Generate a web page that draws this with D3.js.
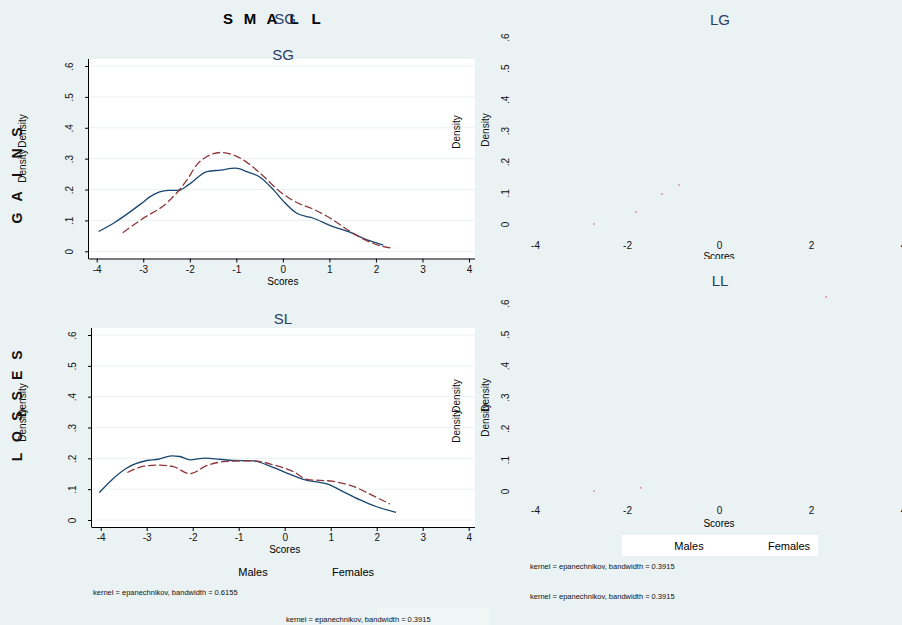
<!DOCTYPE html>
<html>
<head>
<meta charset="utf-8">
<script src="https://cdn.jsdelivr.net/npm/d3@7"></script>
<style>
  body { margin: 0; background: #eaf2f3; }
  svg { display: block; font-family: "Liberation Sans", Arial, sans-serif; }
  .tick text { font-size: 10px; fill: #111; }
  .note { font-size: 7.5px; fill: #111; }
</style>
</head>
<body>
<svg id="chart" width="902" height="625"></svg>
<script>
const xTicks = [-4, -3, -2, -1, 0, 1, 2, 3, 4];
const xTicksWide = [-4, -2, 0, 2, 4];
const yTicks = [0, 0.1, 0.2, 0.3, 0.4, 0.5, 0.6];
const yTickLabels = ["0", ".1", ".2", ".3", ".4", ".5", ".6"];
const titleLetters = ["S", "M", "A", "L", "L"];
const rowGains = ["G", "A", "I", "N", "S"];
const rowLosses = ["L", "O", "S", "S", "E", "S"];
const legendLabels = ["Males", "Females"];

// SG panel, males (solid) and females (dashed)
const sgMales = [[-3.96, 0.064], [-3.64, 0.091], [-3.03, 0.156], [-2.85, 0.177], [-2.46, 0.197],
  [-2.25, 0.197], [-2.03, 0.215], [-1.63, 0.258], [-1.34, 0.263], [-1.02, 0.269], [-0.77, 0.258],
  [-0.49, 0.240], [-0.2, 0.199], [0.02, 0.161], [0.30, 0.123], [0.66, 0.107], [1.02, 0.083],
  [1.45, 0.061], [1.73, 0.042], [2.16, 0.020]];
const sgFemales = [[-3.44, 0.060], [-3.06, 0.101], [-2.46, 0.161], [-2.06, 0.231], [-1.85, 0.280],
  [-1.63, 0.307], [-1.34, 0.320], [-1.06, 0.312], [-0.70, 0.280], [-0.41, 0.242], [-0.06, 0.193],
  [0.30, 0.158], [0.66, 0.136], [1.02, 0.107], [1.45, 0.064], [1.81, 0.034], [2.16, 0.015],
  [2.38, 0.010]];

// SL panel
const slMales = [[-4.03, 0.089], [-3.76, 0.130], [-3.44, 0.168], [-3.0, 0.193], [-2.75, 0.197],
  [-2.46, 0.208], [-2.28, 0.206], [-2.06, 0.195], [-1.73, 0.201], [-1.41, 0.197], [-1.12, 0.193],
  [-0.68, 0.192], [-0.39, 0.179], [-0.03, 0.157], [0.40, 0.132], [0.98, 0.114], [1.27, 0.092],
  [1.64, 0.065], [2.0, 0.043], [2.42, 0.025]];
const slFemales = [[-3.42, 0.154], [-3.0, 0.176], [-2.72, 0.178], [-2.42, 0.173], [-2.06, 0.150],
  [-1.70, 0.176], [-1.26, 0.190], [-0.68, 0.192], [-0.25, 0.179], [0.19, 0.157], [0.48, 0.132],
  [1.06, 0.125], [1.49, 0.109], [1.93, 0.078], [2.29, 0.052]];

// stray specks left in the empty right panels
const lgDots = [[-2.72, 0.0], [-1.80, 0.039], [-1.24, 0.096], [-0.87, 0.125]];
const llDots = [[-2.72, 0.0], [-1.70, 0.010], [2.33, 0.62]];

const bg = "#eaf2f3";
const navy = "#1a476f";
const maroon = "#90353b";
const titleColor = "#2a3c66";

const svg = d3.select("#chart");

translate = function(a, b) {
  return "translate(" + a + ", " + b + ")";
};

function vText(x, y, txt, size, weight) {
  svg.append("text")
    .attr("transform", translate(x, y) + " rotate(-90)")
    .attr("text-anchor", "middle")
    .attr("dy", "0.35em")
    .style("font-size", size + "px")
    .style("font-weight", weight || "normal")
    .style("fill", "#111")
    .text(txt);
}

function panel(cfg) {
  let x = d3.scaleLinear().domain([-4, 4]).range(cfg.xr);
  let y = d3.scaleLinear().domain([0, 0.6]).range(cfg.yr);
  let g = svg.append("g");

  if (cfg.box) {
    g.append("rect")
      .attr("x", cfg.box[0]).attr("y", cfg.box[1])
      .attr("width", cfg.box[2] - cfg.box[0]).attr("height", cfg.box[3] - cfg.box[1])
      .attr("fill", "#fff");
    g.selectAll("line.grid")
      .data(yTicks)
      .enter()
      .append("line")
      .attr("class", "grid")
      .attr("x1", cfg.box[0]).attr("x2", cfg.box[2])
      .attr("y1", d => y(d)).attr("y2", d => y(d))
      .attr("stroke", bg).attr("stroke-width", 1);
  }

  // x axis
  let xAxis = d3.axisBottom(x).tickValues(cfg.xt).tickFormat(d3.format("d"))
    .tickSize(4).tickPadding(3);
  let xg = g.append("g").attr("transform", translate(0, cfg.xAxisY)).call(xAxis);
  if (cfg.box) {
    xg.select(".domain").attr("d", "M" + cfg.box[0] + ",0.5H" + cfg.box[2]).attr("stroke", "#000");
  } else {
    xg.select(".domain").remove();
    xg.selectAll(".tick line").remove();
  }
  xg.selectAll(".tick text").text(d => d < 0 ? "-" + Math.abs(d) : d);

  // y axis
  let yAxis = d3.axisLeft(y).tickValues(yTicks).tickFormat((d, i) => yTickLabels[i]).tickSize(4);
  let yg = g.append("g").attr("transform", translate(cfg.yAxisX, 0)).call(yAxis);
  if (cfg.box) {
    yg.select(".domain").attr("d", "M-0.5," + cfg.box[1] + "V" + (cfg.xAxisY + 0.5)).attr("stroke", "#000");
  } else {
    yg.select(".domain").remove();
    yg.selectAll(".tick line").remove();
  }
  yg.selectAll(".tick text")
    .attr("x", null).attr("dy", null)
    .attr("text-anchor", "middle")
    .attr("transform", "translate(-16, 0) rotate(-90)");

  // panel title and axis title
  g.append("text")
    .attr("x", cfg.titleX).attr("y", cfg.titleY)
    .attr("dy", "0.35em")
    .attr("text-anchor", "middle")
    .style("font-size", "15px")
    .style("fill", titleColor)
    .text(cfg.title);

  g.append("text")
    .attr("x", x(0)).attr("y", cfg.scoresY)
    .attr("dy", "0.35em")
    .attr("text-anchor", "middle")
    .style("font-size", "10px")
    .text("Scores");

  let line = d3.line().x(d => x(d[0])).y(d => y(d[1])).curve(d3.curveMonotoneX);

  if (cfg.males) {
    g.append("path").datum(cfg.males)
      .attr("d", line)
      .attr("fill", "none")
      .attr("stroke", navy)
      .attr("stroke-width", 1.3);
  }
  if (cfg.females) {
    g.append("path").datum(cfg.females)
      .attr("d", line)
      .attr("fill", "none")
      .attr("stroke", maroon)
      .attr("stroke-width", 1.3)
      .attr("stroke-dasharray", "8,3");
  }
  if (cfg.dots) {
    g.selectAll("rect.dot")
      .data(cfg.dots)
      .enter()
      .append("rect")
      .attr("class", "dot")
      .attr("x", d => x(d[0]) - 0.75)
      .attr("y", d => y(d[1]) - 0.75)
      .attr("width", 1.5).attr("height", 1.5)
      .attr("fill", "#c9606a")
      .attr("opacity", 0.8);
  }
}

svg.append("rect").attr("width", 902).attr("height", 625).attr("fill", bg);
svg.append("rect").attr("x", 377).attr("y", 608).attr("width", 113).attr("height", 17)
  .attr("fill", "#f1f6f7");

// left column
panel({ xr: [96.7, 469], yr: [251.3, 66], box: [89, 59, 475, 258.5], xAxisY: 258.5,
  yAxisX: 89, xt: xTicks, title: "SG", titleX: 283, titleY: 55, scoresY: 281,
  males: sgMales, females: sgFemales });
panel({ xr: [100.7, 468.7], yr: [520, 335], box: [92, 328, 475, 527], xAxisY: 527,
  yAxisX: 92, xt: xTicks, title: "SL", titleX: 283, titleY: 319, scoresY: 549,
  males: slMales, females: slFemales });

// right column
panel({ xr: [535, 903], yr: [224, 37], xAxisY: 235, yAxisX: 525, xt: xTicksWide,
  title: "LG", titleX: 720, titleY: 20, scoresY: 256, dots: lgDots });
svg.append("rect").attr("x", 490).attr("y", 259).attr("width", 412).attr("height", 12).attr("fill", bg);
panel({ xr: [535, 903], yr: [491, 303], xAxisY: 500, yAxisX: 525, xt: xTicksWide,
  title: "LL", titleX: 720, titleY: 281, scoresY: 523, dots: llDots });

// overall title, drawn letter by letter, plus a stray "SG"
titleLetters.forEach((c, i) => {
  svg.append("text")
    .attr("x", 228 + i * 22).attr("y", 19).attr("dy", "0.35em")
    .attr("text-anchor", "middle")
    .style("font-size", "15px").style("font-weight", "bold")
    .text(c);
});
svg.append("text").attr("x", 285).attr("y", 19).attr("dy", "0.35em")
  .attr("text-anchor", "middle").style("font-size", "15px").style("fill", titleColor)
  .text("SG");

// row labels on the left
rowGains.forEach((c, i) => vText(17, 218 - i * 21.5, c, 14, "bold"));
rowLosses.forEach((c, i) => vText(17, 457 - i * 20.4, c, 14, "bold"));

// Density axis titles, several stacked on each other
vText(22, 166, "Density", 10);
vText(22, 131, "Density", 10);
vText(22, 425, "Density", 10);
vText(22, 400, "Density", 10);
vText(456, 132, "Density", 10);
vText(456, 426, "Density", 10);
vText(456, 396, "Density", 10);
vText(485, 130, "Density", 10);
vText(485, 420, "Density", 10);
vText(485, 395, "Density", 10);

// legends
svg.append("rect").attr("x", 622).attr("y", 535).attr("width", 196).attr("height", 21).attr("fill", "#fff");
[[253, 572], [353, 572]].forEach((p, i) => {
  svg.append("text").attr("x", p[0]).attr("y", p[1]).attr("dy", "0.35em")
    .attr("text-anchor", "middle").style("font-size", "11px").text(legendLabels[i]);
});
[[689, 546], [789, 546]].forEach((p, i) => {
  svg.append("text").attr("x", p[0]).attr("y", p[1]).attr("dy", "0.35em")
    .attr("text-anchor", "middle").style("font-size", "11px").text(legendLabels[i]);
});

// kernel notes
[[93, 592, "0.6155"], [286, 619, "0.3915"], [530, 566, "0.3915"], [530, 596, "0.3915"]].forEach(n => {
  svg.append("text").attr("class", "note").attr("x", n[0]).attr("y", n[1]).attr("dy", "0.35em")
    .text("kernel = epanechnikov, bandwidth = " + n[2]);
});
</script>
</body>
</html>
